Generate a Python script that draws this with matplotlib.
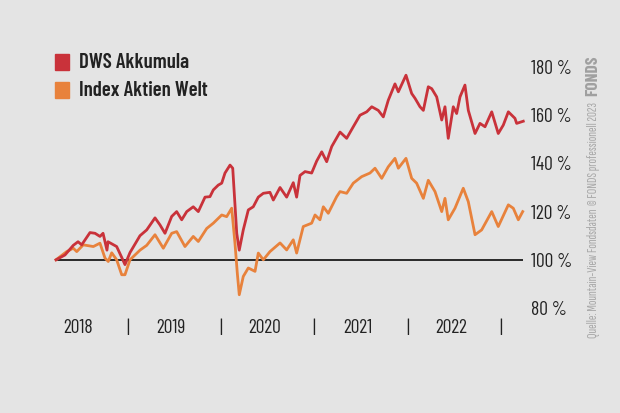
import matplotlib
matplotlib.use("Agg")
import matplotlib.pyplot as plt

# ---- data (decimal years, indexed value in %) ----
dws_t = [2018.236, 2018.332, 2018.421, 2018.472, 2018.511, 2018.600, 2018.654, 2018.707,
         2018.740, 2018.782, 2018.793, 2018.886, 2018.940, 2018.975, 2019.029, 2019.136,
         2019.208, 2019.297, 2019.350, 2019.404, 2019.476, 2019.529, 2019.583, 2019.637,
         2019.707, 2019.761, 2019.833, 2019.886, 2019.922, 2019.975, 2020.012, 2020.047,
         2020.101, 2020.130, 2020.173, 2020.200, 2020.243, 2020.297, 2020.350, 2020.404,
         2020.458, 2020.529, 2020.565, 2020.637, 2020.708, 2020.779, 2020.815, 2020.851,
         2020.905, 2020.976, 2021.030, 2021.084, 2021.137, 2021.191, 2021.280, 2021.351,
         2021.422, 2021.494, 2021.566, 2021.620, 2021.690, 2021.744, 2021.797, 2021.869,
         2021.905, 2021.987, 2022.048, 2022.084, 2022.137, 2022.173, 2022.226, 2022.263,
         2022.316, 2022.370, 2022.405, 2022.440, 2022.494, 2022.530, 2022.566, 2022.619,
         2022.655, 2022.727, 2022.780, 2022.834, 2022.906, 2022.976, 2023.030, 2023.084,
         2023.155, 2023.173, 2023.244]
dws_v = [100.0, 102.0, 106.0, 107.5, 106.2, 111.3, 111.0, 109.7,
         111.0, 104.0, 107.5, 105.5, 101.0, 98.0, 103.0, 110.0,
         112.4, 117.4, 114.5, 111.0, 118.0, 120.0, 116.6, 120.0,
         122.0, 120.0, 126.0, 126.2, 129.0, 131.0, 131.8, 136.0,
         139.3, 138.0, 111.0, 104.0, 112.4, 120.7, 122.0, 126.0,
         127.6, 128.0, 124.8, 130.0, 126.0, 132.0, 126.0, 135.0,
         136.6, 136.0, 141.0, 144.8, 140.7, 147.0, 153.0, 150.4,
         155.2, 160.0, 161.4, 163.5, 162.0, 159.3, 166.2, 173.0,
         169.7, 176.6, 169.0, 167.0, 163.5, 162.0, 171.8, 171.0,
         167.6, 158.0, 163.5, 150.4, 163.5, 160.7, 167.6, 172.5,
         162.0, 152.4, 156.6, 155.2, 161.4, 152.4, 155.9, 161.4,
         158.7, 156.6, 157.5]

idx_t = [2018.236, 2018.350, 2018.421, 2018.458, 2018.528, 2018.636, 2018.707, 2018.761,
         2018.796, 2018.833, 2018.886, 2018.940, 2018.975, 2019.029, 2019.136, 2019.208,
         2019.297, 2019.386, 2019.476, 2019.529, 2019.618, 2019.707, 2019.761, 2019.851,
         2019.922, 2020.012, 2020.065, 2020.119, 2020.154, 2020.179, 2020.200, 2020.243,
         2020.297, 2020.369, 2020.404, 2020.458, 2020.529, 2020.637, 2020.708, 2020.779,
         2020.815, 2020.886, 2020.976, 2021.012, 2021.065, 2021.101, 2021.154, 2021.244,
         2021.280, 2021.351, 2021.422, 2021.512, 2021.601, 2021.655, 2021.727, 2021.797,
         2021.869, 2021.905, 2021.987, 2022.048, 2022.101, 2022.173, 2022.226, 2022.298,
         2022.370, 2022.405, 2022.440, 2022.512, 2022.601, 2022.655, 2022.727, 2022.798,
         2022.906, 2022.976, 2023.084, 2023.137, 2023.191, 2023.238]
idx_v = [100.0, 103.4, 104.8, 103.4, 106.2, 105.5, 106.9, 100.7,
         99.3, 102.9, 100.0, 93.8, 93.8, 100.0, 104.0, 106.0,
         110.4, 104.8, 111.0, 111.7, 105.5, 109.7, 107.6, 113.0,
         115.2, 118.6, 117.9, 121.4, 106.9, 94.5, 85.5, 93.1,
         96.6, 95.2, 102.8, 100.0, 103.4, 107.0, 104.1, 108.3,
         102.8, 113.8, 115.2, 118.6, 116.6, 122.0, 119.3, 126.2,
         128.3, 127.6, 131.8, 134.5, 136.0, 138.0, 133.8, 138.6,
         142.1, 138.0, 142.1, 133.8, 131.8, 125.5, 133.0, 128.3,
         120.0, 125.5, 116.6, 121.4, 129.7, 124.1, 110.4, 112.4,
         120.0, 113.8, 122.8, 121.4, 116.6, 120.0]

series_names = ["DWS Akkumula", "Index Aktien Welt"]
year_labels = ["2018", "2019", "2020", "2021", "2022"]
y_ticks = [80, 100, 120, 140, 160, 180]
source_text = "Quelle: Mountain-View Fondsdaten  \u00a9 FONDS professionell 2023"
logo_text = "FONDS"

# ---- style ----
FONT = ["Barlow Condensed", "DejaVu Sans"]
SRC_FONT = ["Sofia Sans Extra Condensed", "DejaVu Sans"]
plt.rcParams["font.family"] = FONT

BG = "#e4e4e4"
RED = "#c9323a"
ORANGE = "#e8823c"
TXT = "#222222"

W, H = 620, 413
fig = plt.figure(figsize=(W / 100, H / 100), dpi=100, facecolor=BG)

x0_px, x1_px = 34, 530
y_top_px, y_bot_px = 67, 308
ax = fig.add_axes([x0_px / W, 1 - y_bot_px / H, (x1_px - x0_px) / W, (y_bot_px - y_top_px) / H])
ax.set_facecolor(BG)
px_per_year = 93.3
ax.set_xlim(2018.0, 2018.0 + (x1_px - x0_px) / px_per_year)
ax.set_ylim(80, 180)
for s in ax.spines.values():
    s.set_visible(False)

ax.plot([dws_t[0], dws_t[-1]], [100, 100], color="#1a1a1a", lw=1.3, zorder=2, solid_capstyle="butt")
ax.plot(idx_t, idx_v, color=ORANGE, lw=2.0, zorder=3, clip_on=False, solid_joinstyle="round")
ax.plot(dws_t, dws_v, color=RED, lw=2.0, zorder=4, clip_on=False, solid_joinstyle="round")

ax.yaxis.tick_right()
ax.set_yticks(y_ticks)
ax.set_yticklabels([f"{v} %" for v in y_ticks], fontsize=14, color=TXT)
ax.tick_params(axis="y", length=0, pad=1)

ax.set_xticks([])
for i, lab in enumerate(year_labels):
    yr = 2018 + i
    ax.text(yr + 0.47, -0.085, lab, transform=ax.get_xaxis_transform(), ha="center", va="center",
            fontsize=14, color=TXT)
    ax.text(yr + 1.0, -0.085, "|", transform=ax.get_xaxis_transform(), ha="center", va="center",
            fontsize=14, color=TXT)

for i, (name, col) in enumerate(zip(series_names, [RED, ORANGE])):
    yc = 1 - (62 + 28 * i) / H
    fig.patches.append(plt.Rectangle((55 / W, yc - 7.5 / H), 14 / W, 15 / H,
                                     transform=fig.transFigure, color=col, zorder=5))
    fig.text(79 / W, yc, name, ha="left", va="center", fontsize=15, fontweight="semibold",
             color=TXT)

fig.text(593 / W, 1 - 338 / H, source_text, rotation=90, ha="center", va="bottom",
         fontsize=9.8, color="#a8a8a8", family=SRC_FONT)
fig.text(593 / W, 1 - 96 / H, logo_text, rotation=90, ha="center", va="bottom",
         fontsize=12.5, fontweight="bold", color="#a0a0a0")

fig.savefig("out.png", dpi=100, facecolor=BG)
